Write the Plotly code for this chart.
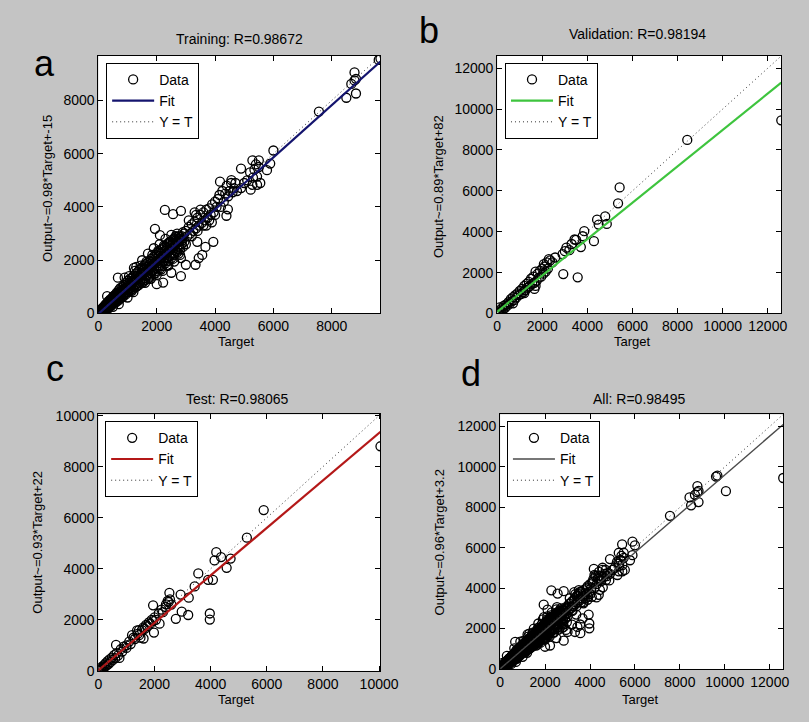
import plotly.graph_objects as go

W, H = 809, 722

# ---------------- data ----------------
train_pairs = [
    # dense band near origin
    (5, 5), (15, 50), (40, 0), (60, 110), (80, 20), (100, 90), (130, 40), (150, 170), (180, 60), (200, 120),
    (230, 90), (250, 300), (280, 150), (300, 220), (330, 170), (360, 420), (390, 260), (420, 480), (450, 300), (480, 560),
    (520, 380), (560, 620), (600, 420), (640, 720), (680, 480), (720, 820), (760, 560), (800, 880), (840, 620), (880, 950),
    # above-diagonal / below-diagonal band
    (10, 30), (30, 10), (50, 80), (70, 40), (90, 150), (110, 60), (140, 200), (160, 100), (190, 260), (210, 150),
    (240, 330), (260, 180), (290, 380), (310, 240), (340, 450), (370, 300), (400, 520), (420, 350), (450, 560), (480, 400),
    (510, 650), (540, 470), (570, 700), (600, 500), (630, 780), (660, 560), (700, 880), (720, 600), (750, 950), (780, 650),
    (820, 1000), (850, 720), (880, 1080), (910, 780), (950, 1150), (980, 820), (1010, 1230), (1040, 900), (1080, 1300), (1110, 950),
    (1150, 1350), (1180, 1000), (1210, 1420), (1240, 1060), (1280, 1500), (1310, 1100), (1350, 1560), (1380, 1150), (1410, 1650), (1440, 1230),
    (1480, 1700), (1510, 1280), (1550, 1780), (1580, 1330), (1610, 1850), (1640, 1400), (1680, 1900), (1710, 1450), (1750, 1980), (1780, 1520),
    (1810, 2050), (1840, 1580), (1880, 2120), (1910, 1650), (1950, 2200), (1980, 1700), (2010, 2260), (2040, 1750), (2080, 2330), (2110, 1800),
    (2150, 2400), (2180, 1880), (2210, 2450), (2240, 1950), (2280, 2520), (2310, 2000), (2350, 2600), (2380, 2080), (2410, 2650), (2440, 2150),
    (2480, 2700), (2510, 2200), (2550, 2780), (2580, 2280), (2610, 2820), (2640, 2350), (2680, 2870), (2710, 2420), (2750, 2900), (2780, 2500),
    (2810, 2880), (2850, 2600), (2880, 2750),
    # more of the dense band
    (20, 80), (45, 30), (70, 130), (95, 40), (120, 180), (145, 90), (170, 230), (195, 110), (220, 280), (245, 140),
    (270, 340), (295, 190), (320, 400), (345, 230), (370, 460), (395, 280), (430, 520), (460, 330), (490, 600), (530, 420),
    (570, 660), (610, 460), (650, 740), (690, 520), (730, 790), (770, 600), (810, 860), (860, 660), (900, 920), (940, 720),
    (990, 1050), (1030, 800), (1070, 1150), (1110, 880), (1160, 1230), (1200, 930), (1260, 1330), (1300, 1000), (1360, 1420), (1400, 1080),
    (1460, 1520), (1500, 1150), (1560, 1640), (1600, 1250), (1660, 1750), (1700, 1300), (1760, 1850), (1800, 1420), (1860, 1960), (1900, 1500),
    (1960, 2050), (2000, 1600), (2060, 2150), (2100, 1680), (2160, 2250), (2200, 1780), (2260, 2350), (2300, 1880), (2360, 2450), (2400, 1980),
    (2460, 2550), (2500, 2080), (2560, 2650), (2600, 2200), (2660, 2750), (2700, 2300), (2760, 2800), (2800, 2400), (2860, 2900), (2900, 2500),
    (2950, 3000), (3000, 2600),
    # on the diagonal
    (25, 20), (75, 70), (125, 120), (175, 170), (225, 210), (275, 270), (325, 320), (375, 360), (425, 410), (475, 470),
    (525, 510), (575, 560), (625, 610), (675, 660), (725, 710), (775, 760), (825, 800), (875, 860), (925, 900), (975, 960),
    (1025, 1000), (1075, 1060), (1125, 1100), (1175, 1150), (1225, 1200), (1275, 1250), (1325, 1300), (1375, 1350), (1425, 1400), (1475, 1450),
    (1525, 1490), (1575, 1550), (1625, 1600), (1675, 1640), (1725, 1690), (1775, 1740), (1825, 1790), (1875, 1840), (1925, 1890), (1975, 1940),
    (2025, 1990), (2075, 2030), (2125, 2080), (2175, 2130), (2225, 2180), (2275, 2230), (2325, 2280), (2375, 2330), (2425, 2380), (2475, 2420),
    (2525, 2470), (2575, 2520), (2625, 2570), (2675, 2620), (2725, 2670), (2775, 2720), (2825, 2770),
    # wider spread
    (1050, 1400), (1150, 850), (1250, 1600), (1350, 1050), (1450, 1800), (1550, 1200), (1650, 1950), (1750, 1350), (1850, 2200), (1950, 1500),
    (2050, 2350), (2150, 1650), (2250, 2550), (2350, 1800), (2450, 2700), (2550, 2050), (2650, 2900), (2750, 2250),
    (300, 650), (500, 250), (700, 350), (900, 1350), (1000, 600), (1200, 800), (1300, 1750), (1500, 2000), (1600, 1150), (1700, 2250),
    (1800, 1300), (1900, 2450), (2000, 1450), (2100, 2600), (2200, 1600), (2300, 2800), (2400, 1800), (2500, 2950), (2600, 1950), (2700, 3000),
    (2800, 2200), (2900, 3050), (670, 1345), (1220, 1710), (1940, 3180), (2110, 2940),
    # 3000-4000 cluster
    (2950, 2700), (3000, 3100), (3050, 2900), (3100, 3250), (3150, 3000), (3200, 3350), (3250, 3100), (3300, 3450), (3350, 3200), (3400, 3600),
    (3450, 3300), (3500, 3700), (3550, 3400), (3600, 3800), (3650, 3500), (3700, 3900), (3750, 3600), (3800, 3950), (3850, 3700), (3900, 4100),
    (3950, 3800), (4000, 4200), (3100, 3500), (3300, 3800), (3500, 3900), (3200, 2900), (3400, 3100), (3600, 3300), (3800, 3500), (4000, 3700),
    (3350, 3700), (3700, 3300),
    # 4000-4800
    (4050, 4000), (4100, 4300), (4150, 4450), (4200, 4000), (4250, 4600), (4300, 4200), (4350, 4500), (4400, 4800), (4450, 4400), (4500, 4600),
    (4550, 4900), (4600, 4550), (4650, 4700), (4700, 4900), (4750, 4600), (4390, 3670), (4440, 3910), (4170, 4950), (4560, 5010), (3890, 3425),
    # outliers
    (2280, 3890), (2560, 3730), (2830, 3850), (2000, 1100), (2220, 1160), (2500, 1530), (2830, 1400), (2830, 2080), (3000, 1830), (3330, 1830),
    (3440, 2080), (3560, 2200), (3670, 2500), (3940, 2690), (3390, 2690),
    # 4800-6000
    (4890, 4710), (5220, 4650), (5280, 4830), (5440, 4830), (5440, 5140), (5500, 5750), (5280, 5750), (5780, 5380), (6000, 6120), (5890, 5630),
    (4890, 5440), (5100, 5000), (5200, 5300), (5350, 5400), (5400, 5600), (5500, 5500), (5300, 5100), (5000, 4900), (5550, 4900),
    # high end
    (7560, 7580), (8500, 8100), (8670, 8620), (8780, 8750), (8830, 8810), (8830, 8260), (8780, 9050), (9670, 9570), (9610, 9520),
]

val_pairs = [
    (20, 50), (60, 20), (100, 150), (150, 80), (200, 250), (250, 180), (300, 380), (350, 280), (400, 450), (450, 380),
    (500, 550), (550, 480), (600, 700), (650, 600), (700, 800), (750, 650), (800, 900), (850, 780), (900, 980), (950, 900),
    (1000, 1100), (1050, 950), (1100, 1200), (1150, 1050), (1200, 1350), (1250, 1150), (1300, 1450), (1350, 1250), (1400, 1550), (1450, 1350),
    (1500, 1700), (1550, 1450), (1600, 1800), (1650, 1500), (1700, 2050), (1750, 1600), (1800, 1950), (1850, 1750), (1900, 2100), (1950, 1800),
    (2000, 2200), (2050, 1950), (2100, 2300), (2150, 2050), (2200, 2500), (2250, 2200), (2350, 2600), (2450, 2500), (1650, 1200), (1700, 1350),
    (120, 300), (700, 500), (1200, 1000), (1400, 1300), (2900, 2900), (3000, 3050), (3200, 3100), (3300, 3400), (3500, 3600),
    (12600, 9450), (8430, 8490), (5430, 6170), (5360, 5390), (4790, 4750), (4430, 4590), (4860, 4380), (4290, 3540), (4500, 4350), (3860, 4030),
    (3790, 3780), (3710, 3250), (3430, 3620), (3570, 1770), (2930, 1930), (3070, 3220), (2570, 2740), (2290, 2660), (2070, 2420),
]

test_pairs = [
    (10, 20), (30, 60), (50, 10), (80, 120), (100, 60), (130, 170), (160, 100), (200, 230), (230, 160), (260, 300),
    (300, 220), (330, 380), (370, 280), (400, 450), (440, 350), (480, 520), (520, 430), (560, 620), (600, 500), (650, 700),
    (700, 600), (800, 850), (850, 760), (900, 950), (1000, 1000), (1100, 1150), (1150, 1050), (1250, 1300), (1300, 1250), (1400, 1450),
    (1450, 1400), (1550, 1600), (1600, 1700), (1650, 1650), (1700, 1800), (1750, 1750), (1800, 1900), (1850, 1850), (1900, 2000), (1950, 1950),
    (2000, 2100), (2050, 2000), (2150, 2250), (2250, 2400), (2300, 2300), (2400, 2500), (2500, 2700), (2550, 2800), (2600, 2600), (1000, 900),
    (1200, 1400), (1450, 1600), (1500, 1300),
    (10050, 8800), (5890, 6300), (5290, 5220), (4200, 4650), (4140, 4330), (4370, 4460), (4710, 4400), (4570, 4040), (3560, 3820), (3910, 3570),
    (4080, 3570), (3430, 3310), (3220, 2870), (2930, 2990), (2970, 2320), (3200, 2190), (2760, 2040), (3970, 2250), (3970, 2010), (2530, 3060),
    (2470, 2740), (2410, 2610), (1950, 2570), (2180, 1850), (1980, 1500), (1610, 1270), (1380, 1590), (630, 1020), (750, 510),
]

train_target = [p[0] for p in train_pairs]
train_output = [p[1] for p in train_pairs]
val_target = [p[0] for p in val_pairs]
val_output = [p[1] for p in val_pairs]
test_target = [p[0] for p in test_pairs]
test_output = [p[1] for p in test_pairs]
all_target = train_target + val_target + test_target
all_output = train_output + val_output + test_output

panel_titles = ["Training: R=0.98672", "Validation: R=0.98194", "Test: R=0.98065", "All: R=0.98495"]
y_labels = ["Output~=0.98*Target+-15", "Output~=0.89*Target+82", "Output~=0.93*Target+22", "Output~=0.96*Target+3.2"]
fit_slope = [0.98, 0.89, 0.93, 0.96]
fit_intercept = [-15, 82, 22, 3.2]
axis_max = [9670, 12600, 10050, 12600]
panel_letters = ["a", "b", "c", "d"]
x_tickvals = [[0, 2000, 4000, 6000, 8000],
              [0, 2000, 4000, 6000, 8000, 10000, 12000],
              [0, 2000, 4000, 6000, 8000, 10000],
              [0, 2000, 4000, 6000, 8000, 10000, 12000]]
y_tickvals = [[0, 2000, 4000, 6000, 8000],
              [0, 2000, 4000, 6000, 8000, 10000, 12000],
              [0, 2000, 4000, 6000, 8000, 10000],
              [0, 2000, 4000, 6000, 8000, 10000, 12000]]
legend_names = ["Data", "Fit", "Y = T"]

series_target = [train_target, val_target, test_target, all_target]
series_output = [train_output, val_output, test_output, all_output]

# ---------------- styling / layout ----------------
fit_colors = ["#14146e", "#3ec43e", "#b41818", "#4a4a4a"]
fit_widths = [2.2, 2.2, 2.2, 1.4]
boxes = [(97, 50, 387, 313), (507, 50, 799, 313), (97, 416, 387, 678), (510, 416, 801, 676)]
title_pos = [(242, 33), (651, 28), (240, 400), (653, 400)]
xlab_pos = [(239, 342), (646, 342), (239, 707), (654, 707)]
ylab_pos = [(44, 185), (446, 183), (35, 547), (448, 547)]
letter_pos = [(42, 58), (437, 24), (52, 369), (480, 374)]
legend_pos = [(105, 57), (515, 57), (104, 423), (517, 423)]

FONT = "Liberation Sans, Arial, Helvetica, sans-serif"
BG = "#c4c4c4"

fig = go.Figure()
layout = dict(
    width=W, height=H, margin=dict(l=0, r=0, t=0, b=0, pad=0),
    paper_bgcolor=BG, plot_bgcolor="white",
    font=dict(family=FONT, size=14, color="black"),
    showlegend=True, annotations=[],
)

for i in range(4):
    sfx = "" if i == 0 else str(i + 1)
    xa, ya = "x" + sfx, "y" + sfx
    leg = "legend" + sfx
    x0, y0, x1, y1 = boxes[i]
    vmax = axis_max[i]

    fig.add_trace(go.Scatter(
        x=series_target[i], y=series_output[i], mode="markers", name=legend_names[0],
        marker=dict(symbol="circle-open", size=9, color="black", line=dict(width=1.3, color="black")),
        xaxis=xa, yaxis=ya, legend=leg, cliponaxis=True))
    fx = [0, vmax]
    fy = [fit_slope[i] * v + fit_intercept[i] for v in fx]
    fig.add_trace(go.Scatter(
        x=fx, y=fy, mode="lines", name=legend_names[1],
        line=dict(color=fit_colors[i], width=fit_widths[i]),
        xaxis=xa, yaxis=ya, legend=leg))
    fig.add_trace(go.Scatter(
        x=fx, y=fx, mode="lines", name=legend_names[2],
        line=dict(color="#333333", width=1, dash="1px,3px"),
        xaxis=xa, yaxis=ya, legend=leg))

    axcommon = dict(
        showline=True, linecolor="black", linewidth=1, mirror="ticks",
        ticks="inside", ticklen=5, tickcolor="black", tickwidth=1,
        showgrid=False, zeroline=False,
        tickfont=dict(family=FONT, size=14, color="black"),
        range=[0, vmax], fixedrange=True,
    )
    layout["xaxis" + sfx] = dict(axcommon, domain=[x0 / W, x1 / W], anchor=ya,
                                 tickvals=x_tickvals[i], ticktext=[str(v) for v in x_tickvals[i]])
    layout["yaxis" + sfx] = dict(axcommon, domain=[1 - y1 / H, 1 - y0 / H], anchor=xa,
                                 tickvals=y_tickvals[i], ticktext=[str(v) for v in y_tickvals[i]])

    lx, ly = legend_pos[i]
    layout[leg] = dict(
        x=lx / W, y=1 - ly / H, xanchor="left", yanchor="top", xref="paper", yref="paper",
        bgcolor="white", bordercolor="black", borderwidth=1,
        font=dict(family=FONT, size=14, color="black"),
        itemwidth=42, tracegroupgap=0, traceorder="normal",
    )

    tx, ty = title_pos[i]
    layout["annotations"].append(dict(text=panel_titles[i], x=tx / W, y=1 - ty / H, xref="paper", yref="paper",
                                      xanchor="center", yanchor="middle", showarrow=False,
                                      font=dict(family=FONT, size=14, color="black")))
    ax_, ay_ = xlab_pos[i]
    layout["annotations"].append(dict(text="Target", x=ax_ / W, y=1 - ay_ / H, xref="paper", yref="paper",
                                      xanchor="center", yanchor="middle", showarrow=False,
                                      font=dict(family=FONT, size=13, color="black")))
    bx, by = ylab_pos[i]
    layout["annotations"].append(dict(text=y_labels[i], x=bx / W, y=1 - by / H, xref="paper", yref="paper",
                                      xanchor="center", yanchor="middle", showarrow=False, textangle=-90,
                                      font=dict(family=FONT, size=13, color="black")))
    lx2, ly2 = letter_pos[i]
    layout["annotations"].append(dict(text=panel_letters[i], x=lx2 / W, y=1 - ly2 / H, xref="paper", yref="paper",
                                      xanchor="center", yanchor="middle", showarrow=False,
                                      font=dict(family=FONT, size=36, color="black")))

fig.update_layout(**layout)
fig.write_html("out.html")
